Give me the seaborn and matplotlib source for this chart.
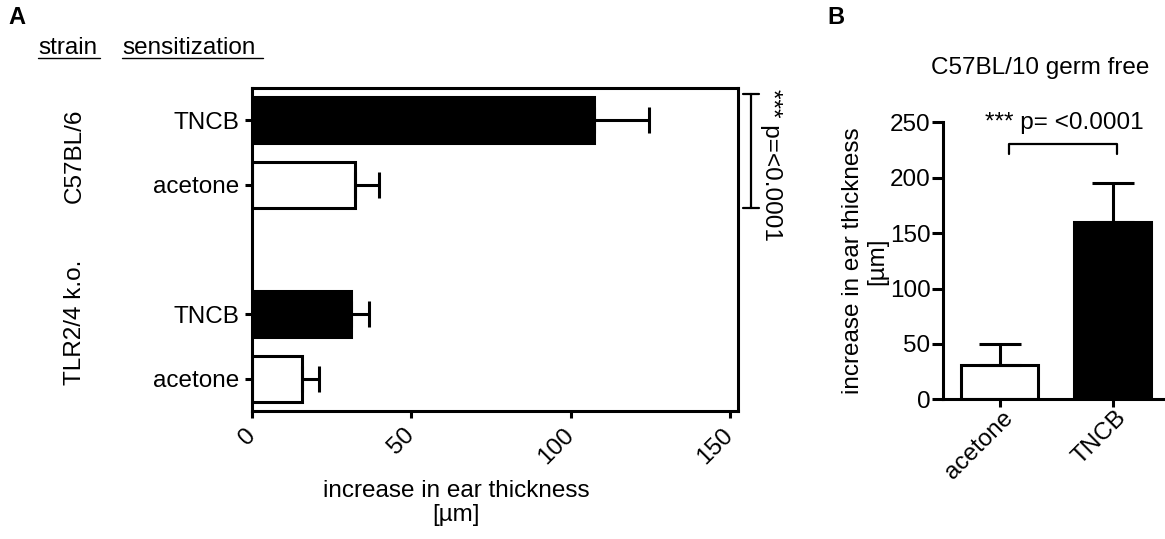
import numpy as np
import pandas as pd
import matplotlib
matplotlib.use("Agg")
import matplotlib.pyplot as plt
import matplotlib.transforms as mtransforms
import seaborn as sns
from matplotlib.lines import Line2D

# ---------------- data ----------------
# panel A: horizontal bars, two strains x two sensitizations
strain_a = ["C57BL/6", "C57BL/6", "TLR2/4 k.o.", "TLR2/4 k.o."]
treat_a = ["TNCB", "acetone", "TNCB", "acetone"]
pos_a = [0, 1, 3, 4]
mean_a = [107.3, 32.3, 31.1, 15.6]
err_a = [17.3, 7.5, 5.6, 5.5]
xticks_a = [0, 50, 100, 150]

# panel B: germ free mice
treat_b = ["acetone", "TNCB"]
mean_b = [31.0, 160.3]
err_b = [18.6, 34.7]
yticks_b = [0, 50, 100, 150, 200, 250]

palette = {"TNCB": "black", "acetone": "white"}

sns.set_style("ticks", {"axes.edgecolor": "black", "text.color": "black",
                        "xtick.color": "black", "ytick.color": "black",
                        "axes.labelcolor": "black"})
plt.rcParams['font.family'] = ['Liberation Sans', 'DejaVu Sans']
plt.rcParams['font.size'] = 17.5
plt.rcParams['axes.linewidth'] = 2.2

W, H = 1165, 539
fig = plt.figure(figsize=(W / 100, H / 100), dpi=100)

# ---------------- panel A ----------------
axA = fig.add_axes([252 / W, 1 - 411 / H, 486 / W, 323 / H])
dfA = pd.DataFrame({"pos": pos_a, "value": mean_a, "sd": err_a, "treat": treat_a})
sns.barplot(data=dfA, x="value", y="pos", hue="treat", palette=palette,
            orient="h", native_scale=True, dodge=False, width=0.71,
            edgecolor="black", linewidth=2.2, errorbar=None, legend=False, ax=axA)
axA.errorbar(dfA["value"], dfA["pos"], xerr=[np.zeros(len(dfA)), dfA["sd"]],
             fmt="none", ecolor="black", elinewidth=2.2, capsize=9.4, capthick=2.2, zorder=3)
axA.set_xlim(0, 152.5)
axA.set_ylim(4.5, -0.5)
axA.set_xticks(xticks_a)
axA.set_yticks(pos_a)
axA.set_yticklabels(treat_a)
axA.set_ylabel("")
axA.tick_params(axis="x", length=5, width=2.2, pad=10)
axA.tick_params(axis="y", length=5, width=2.2, pad=4)
for tl in axA.get_xticklabels():
    tl.set_rotation(45)
    tl.set_ha("right")
    tl.set_va("center")
    tl.set_rotation_mode("anchor")
axA.set_xlabel("increase in ear thickness\n[µm]", linespacing=1.1)
axA.xaxis.set_label_coords(0.42, -0.215)

# significance bracket on the right of panel A
bx, by0, by1 = 156.6, -0.40, 1.36
axA.plot([bx - 2.6, bx + 2.6, np.nan, bx, bx, np.nan, bx - 2.6, bx + 2.6],
         [by0, by0, np.nan, by0, by1, np.nan, by1, by1],
         color="black", lw=1.6, clip_on=False)
axA.text(163.0, 0.69, "*** p=<0.0001", rotation=270, ha="center", va="center",
         clip_on=False)

# group labels and column headers
fig.text(75 / W, 1 - 156 / H, "C57BL/6", rotation=90, ha="center", va="center")
fig.text(75 / W, 1 - 322 / H, "TLR2/4 k.o.", rotation=90, ha="center", va="center")
fig.text(38 / W, 1 - 48 / H, "strain", ha="left", va="center")
fig.text(122 / W, 1 - 48 / H, "sensitization", ha="left", va="center")
for x0, x1 in [(38, 100), (122, 263)]:
    fig.add_artist(Line2D([x0 / W, x1 / W], [1 - 58 / H, 1 - 58 / H],
                          color="black", lw=1.0))

fig.text(8 / W, 1 - 18 / H, "A", ha="left", va="center", fontsize=17, fontweight="bold")
fig.text(827 / W, 1 - 18 / H, "B", ha="left", va="center", fontsize=17, fontweight="bold")

# ---------------- panel B ----------------
axB = fig.add_axes([943 / W, 1 - 399.3 / H, 226.5 / W, 277 / H])
dfB = pd.DataFrame({"treat": treat_b, "value": mean_b, "sd": err_b})
sns.barplot(data=dfB, x="treat", y="value", hue="treat", palette=palette,
            width=0.68, edgecolor="black", linewidth=2.2, errorbar=None,
            legend=False, ax=axB)
axB.errorbar(np.arange(len(dfB)), dfB["value"], yerr=[np.zeros(len(dfB)), dfB["sd"]],
             fmt="none", ecolor="black", elinewidth=2.2, capsize=14.8, capthick=2.2, zorder=3)
axB.set_xlim(-0.5, 1.5)
axB.set_ylim(0, 250)
axB.set_yticks(yticks_b)
axB.set_xlabel("")
axB.tick_params(axis="y", length=8, width=2.2, pad=1)
axB.tick_params(axis="x", length=6, width=2.2, pad=5)
shift = mtransforms.ScaledTranslation(7 / 72, 0, fig.dpi_scale_trans)
for tl in axB.get_xticklabels():
    tl.set_rotation(45)
    tl.set_ha("right")
    tl.set_va("center")
    tl.set_rotation_mode("anchor")
    tl.set_transform(tl.get_transform() + shift)
sns.despine(ax=axB)
axB.set_ylabel("increase in ear thickness\n[µm]", linespacing=1.1)
axB.yaxis.set_label_coords(-0.243, 0.5)

# bracket + p value
axB.plot([0.08, 0.08, 1.035, 1.035], [221, 230, 230, 221], color="black", lw=1.6,
         clip_on=False)
axB.text(0.575, 249.5, "*** p= <0.0001", ha="center", va="center", clip_on=False)
fig.text(1040 / W, 1 - 68 / H, "C57BL/10 germ free", ha="center", va="center")

fig.savefig("out.png", dpi=100)
